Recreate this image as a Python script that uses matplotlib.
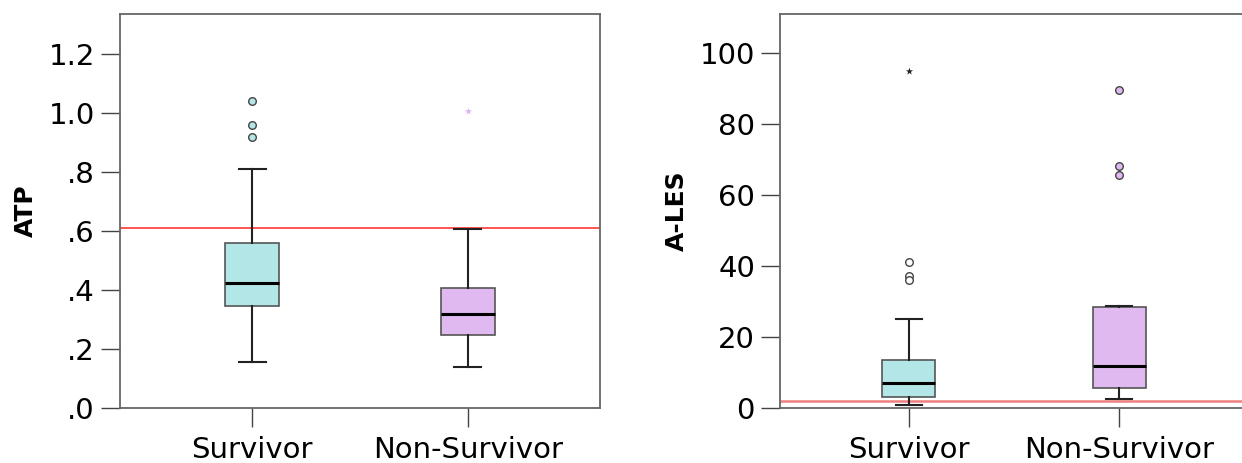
import matplotlib
matplotlib.use("Agg")
import matplotlib.pyplot as plt

categories = ["Survivor", "Non-Survivor"]

# ATP panel
atp_whislo = [0.156, 0.139]
atp_q1 = [0.346, 0.247]
atp_med = [0.424, 0.319]
atp_q3 = [0.559, 0.407]
atp_whishi = [0.81, 0.607]
atp_out_circle = [[1.04, 0.96, 0.919], []]
atp_out_star = [[], [1.007]]
atp_cut = 0.61
atp_ticks = [0.0, 0.2, 0.4, 0.6, 0.8, 1.0, 1.2]
atp_ticklabels = [".0", ".2", ".4", ".6", ".8", "1.0", "1.2"]

# A-LES panel
les_whislo = [0.85, 2.5]
les_q1 = [3.1, 5.6]
les_med = [7.0, 11.8]
les_q3 = [13.5, 28.5]
les_whishi = [25.1, 28.7]
les_out_circle = [[41.1, 37.2, 36.1], [89.6, 68.2, 65.6]]
les_out_star = [[95.0], []]
les_cut = 2.0
les_ticks = [0, 20, 40, 60, 80, 100]
les_ticklabels = ["0", "20", "40", "60", "80", "100"]

fills = ["#b3e6e6", "#dfb9f0"]
circle_faces_atp = ["#b3e6e6", "#dfb9f0"]
circle_faces_les = ["white", "#dfb9f0"]
star_colors_atp = ["#333333", "#d9b3f0"]
star_colors_les = ["#222222", "#d9b3f0"]

W, H = 1242, 463
fig = plt.figure(figsize=(W / 100, H / 100), dpi=100)

def px_axes(l, r, t, b):
    return fig.add_axes([l / W, 1 - b / H, (r - l) / W, (b - t) / H])

def panel(ax, wlo, q1, med, q3, whi, circ, star, cut, ticks, tlabels, ylim, ylabel,
          cface, scol, cutcolor, cutlw):
    stats = []
    for i in range(len(categories)):
        stats.append(dict(whislo=wlo[i], q1=q1[i], med=med[i], q3=q3[i],
                          whishi=whi[i], fliers=[], label=categories[i]))
    bp = ax.bxp(stats, positions=[1, 2], widths=0.25, patch_artist=True,
                showfliers=False,
                boxprops=dict(edgecolor="#555555", linewidth=1.2),
                medianprops=dict(color="black", linewidth=2.2),
                whiskerprops=dict(color="#222222", linewidth=1.5),
                capprops=dict(color="#222222", linewidth=1.5),
                capwidths=0.125)
    for p, c in zip(bp["boxes"], fills):
        p.set_facecolor(c)
    for i in range(len(categories)):
        if circ[i]:
            ax.scatter([i + 1] * len(circ[i]), circ[i], s=30, facecolor=cface[i],
                       edgecolor="#444444", linewidth=1.0, zorder=4)
        if star[i]:
            ax.scatter([i + 1] * len(star[i]), star[i], s=30, marker="*",
                       color=scol[i], linewidth=0, zorder=4)
    ax.axhline(cut, color=cutcolor, linewidth=cutlw, zorder=1.5)
    ax.set_xlim(0.388, 2.612)
    ax.set_ylim(*ylim)
    ax.set_yticks(ticks)
    ax.set_yticklabels(tlabels)
    ax.set_xticks([1, 2])
    ax.set_xticklabels(categories)
    ax.tick_params(axis="both", direction="out", length=14, width=1.0,
                   color="#444444", labelsize=21, pad=4)
    ax.tick_params(axis="x", pad=6)
    for s in ax.spines.values():
        s.set_color("#666666")
        s.set_linewidth(1.3)
    ax.set_ylabel(ylabel, fontsize=18, fontweight="bold", labelpad=8)

ax1 = px_axes(120, 600, 14, 408)
panel(ax1, atp_whislo, atp_q1, atp_med, atp_q3, atp_whishi, atp_out_circle,
      atp_out_star, atp_cut, atp_ticks, atp_ticklabels, (0, 1.335), "ATP",
      circle_faces_atp, star_colors_atp, "#ff4444", 1.3)

ax2 = px_axes(780, 1248, 14, 408)
panel(ax2, les_whislo, les_q1, les_med, les_q3, les_whishi, les_out_circle,
      les_out_star, les_cut, les_ticks, les_ticklabels, (0, 111), "A-LES",
      circle_faces_les, star_colors_les, "#f08080", 1.8)

fig.savefig("out.png", dpi=100)
